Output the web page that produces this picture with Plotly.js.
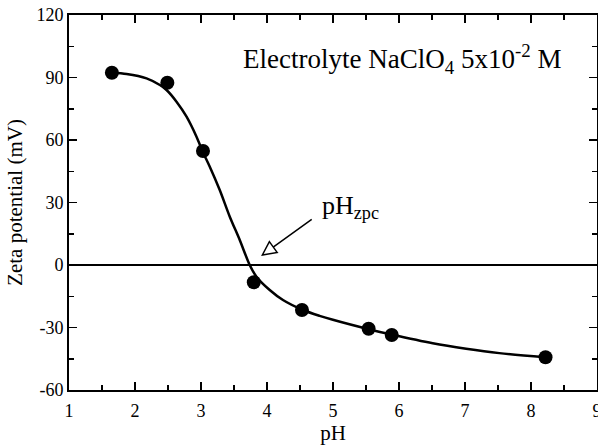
<!DOCTYPE html>
<html>
<head>
<meta charset="utf-8">
<script src="https://cdn.plot.ly/plotly-3.0.1.min.js"></script>
<style>html,body{margin:0;padding:0;background:#fff;} #chart{width:598px;height:446px;}</style>
</head>
<body>
<div id="chart"></div>
<script>
// measured data points (pH, zeta potential mV)
var pH = [1.65, 2.49, 3.03, 3.80, 4.53, 5.54, 5.89, 8.22];
var zeta = [92.3, 87.5, 54.7, -8.3, -21.6, -30.6, -33.6, -44.3];

// fitted smooth curve
var fitPH = [1.646, 1.873, 2.175, 2.377, 2.478, 2.629, 2.781, 2.932, 3.032, 3.133, 3.284, 3.436, 3.587, 3.738, 3.840, 4.041, 4.242, 4.545, 4.797, 4.998, 5.539, 5.887, 6.511, 7.017, 7.520, 8.216];
var fitZeta = [92.3, 91.7, 89.6, 86.4, 84.0, 78.4, 71.2, 61.6, 54.0, 47.2, 36.0, 23.2, 12.0, 0.0, -5.6, -12.0, -16.8, -21.6, -24.4, -26.3, -30.8, -33.4, -37.6, -40.2, -42.3, -44.3];

var xTicks = [1, 2, 3, 4, 5, 6, 7, 8, 9];
var yTicks = [-60, -30, 0, 30, 60, 90, 120];

var serif = 'Liberation Serif, Times New Roman, serif';

var traces = [
  {x: fitPH, y: fitZeta, mode: 'lines', line: {color: '#000', width: 2.5, shape: 'spline', smoothing: 0.8}, hoverinfo: 'skip', showlegend: false},
  {x: pH, y: zeta, mode: 'markers', marker: {color: '#000', size: 14}, showlegend: false}
];

var axisCommon = {
  showgrid: false, showline: true, linecolor: '#000', linewidth: 2,
  mirror: 'ticks', ticks: 'inside', ticklen: 8, tickwidth: 1.5, tickcolor: '#000',
  ticklabeloverflow: 'allow',
  tickfont: {family: serif, size: 18, color: '#000'}
};

var layout = {
  width: 598, height: 446,
  margin: {l: 69, r: 1, t: 15, b: 56},
  paper_bgcolor: '#fff', plot_bgcolor: '#fff',
  font: {family: serif, color: '#000'},
  xaxis: Object.assign({}, axisCommon, {
    range: [1, 9], tickvals: xTicks, ticktext: xTicks.map(String),
    zeroline: false, ticklabelstandoff: 3,
    minor: {dtick: 0.5, ticks: 'inside', ticklen: 5, tickwidth: 1.5, tickcolor: '#000'},
    title: {text: 'pH', font: {family: serif, size: 21, color: '#000'}, standoff: 6}
  }),
  yaxis: Object.assign({}, axisCommon, {
    range: [-60, 120], tickvals: yTicks, ticktext: yTicks.map(String),
    zeroline: true, zerolinecolor: '#000', zerolinewidth: 1.5,
    minor: {dtick: 15, ticks: 'inside', ticklen: 5, tickwidth: 1.5, tickcolor: '#000'},
    title: {text: 'Zeta potential (mV)', font: {family: serif, size: 21, color: '#000'}, standoff: 8}
  }),
  annotations: [
    {x: 3.60, y: 99, xref: 'x', yref: 'y', xanchor: 'left', yanchor: 'middle', showarrow: false,
     text: 'Electrolyte NaClO<sub>4</sub> 5x10<sup>-2</sup> M', font: {family: serif, size: 27, color: '#000'}},
    {x: 4.80, y: 28, xref: 'x', yref: 'y', xanchor: 'left', yanchor: 'middle', showarrow: false,
     text: 'pH<sub>zpc</sub>', font: {family: serif, size: 26, color: '#000'}},
    {x: 3.93, y: 4.8, xref: 'x', yref: 'y', ax: 4.70, ay: 22.4, axref: 'x', ayref: 'y',
     text: '', showarrow: true, arrowhead: 2, arrowsize: 1.8, arrowwidth: 1.5, arrowcolor: '#000'}
  ]
};

Plotly.newPlot('chart', traces, layout, {displayModeBar: false, staticPlot: true}).then(function () {
  var gs = document.querySelectorAll('.annotation-arrow-g');
  gs.forEach(function (g) {
    var paths = g.querySelectorAll('path');
    if (paths.length > 1) {
      var head = paths[paths.length - 1];
      head.style.fill = '#fff';
      head.style.stroke = '#000';
      head.style.strokeWidth = '0.55px';
    }
  });
});
</script>
</body>
</html>
